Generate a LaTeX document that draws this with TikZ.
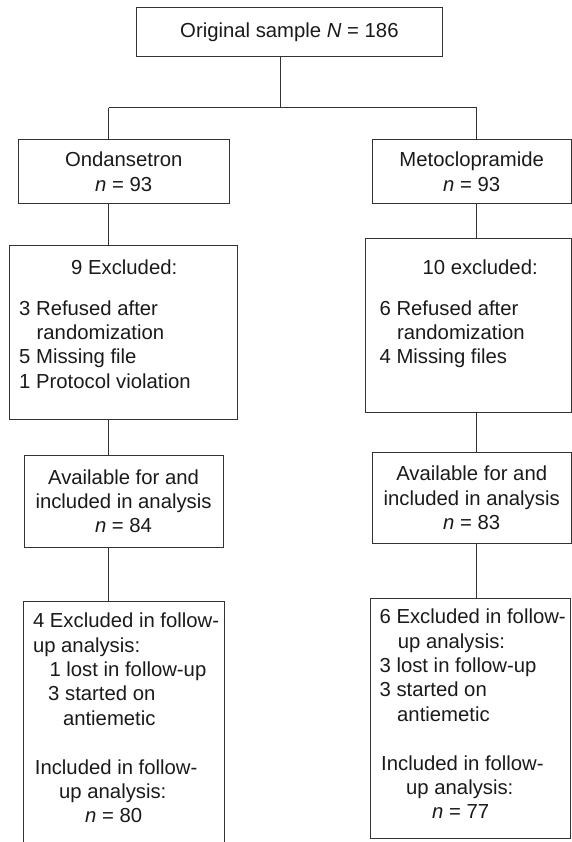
\documentclass[tikz,border=0pt]{standalone}
\usepackage{fontspec}
\setmainfont{Liberation Sans}
\usetikzlibrary{positioning,calc}
\definecolor{LineGrey}{HTML}{333333}
\definecolor{TextBlack}{HTML}{1A1A1A}

\begin{document}
\begin{tikzpicture}[x=1pt,y=1pt,
  font=\fontsize{20.3}{24.4}\selectfont,
  flowbox/.style={draw=LineGrey,line width=0.9pt,inner sep=0pt,anchor=north west,align=center,text=TextBlack},
  boxtext/.style={inner sep=0pt,anchor=north west,align=left,text=TextBlack},
  link/.style={draw=LineGrey,line width=0.9pt}]
  \useasboundingbox (0,0) rectangle (572,-842);

  % boxes
  \node[flowbox,minimum width=306.5pt,minimum height=48.7pt] (orig) at (135.7,-7.3) {Original sample \textit{N} = 186};
  \node[flowbox,minimum width=211.5pt,minimum height=64pt] (ond) at (17.5,-139.3) {Ondansetron\\\textit{n} = 93};
  \node[flowbox,minimum width=198.5pt,minimum height=64pt] (meto) at (372,-139.3) {Metoclopramide\\\textit{n} = 93};
  \node[flowbox,minimum width=228pt,minimum height=174pt] (exclL) at (9,-245) {};
  \node[flowbox,minimum width=205.5pt,minimum height=174pt] (exclR) at (365,-238.3) {};
  \node[flowbox,minimum width=198.8pt,minimum height=91.7pt] (availL) at (23.7,-455) {Available for and\\included in analysis\\\textit{n} = 84};
  \node[flowbox,minimum width=198.5pt,minimum height=91.6pt] (availR) at (372,-451.7) {Available for and\\included in analysis\\\textit{n} = 83};
  \node[flowbox,minimum width=201.8pt,minimum height=260pt] (followL) at (22.6,-601) {};
  \node[flowbox,minimum width=200.4pt,minimum height=240pt] (followR) at (369.6,-597.7) {};

  % box contents
  \node[boxtext] (exclLtxt) at ($(exclL.north west)+(10,-14.5)$) {%
    \hspace*{52pt}9 Excluded:\\[16.2pt]
    3 Refused after\\
    \hspace*{17.5pt}randomization\\
    5 Missing file\\
    1 Protocol violation};
  \node[boxtext] (exclRtxt) at ($(exclR.north west)+(14.4,-21.2)$) {%
    \hspace*{43pt}10 excluded:\\[16.2pt]
    6 Refused after\\
    \hspace*{17.5pt}randomization\\
    4 Missing files};
  \node[boxtext] (followLtxt) at ($(followL.north west)+(10.2,-11.8)$) {%
    4 Excluded in follow-\\
    up analysis:\\
    \hspace*{16.5pt}1 lost in follow-up\\
    \hspace*{15.2pt}3 started on\\
    \hspace*{30pt}antiemetic\\[24.4pt]
    \hspace*{1.9pt}Included in follow-\\
    \hspace*{26.2pt}up analysis:\\
    \hspace*{52.2pt}\textit{n} = 80};
  \node[boxtext] (followRtxt) at ($(followR.north west)+(9.8,-11.1)$) {%
    6 Excluded in follow-\\
    \hspace*{18.3pt}up analysis:\\
    3 lost in follow-up\\
    3 started on\\
    \hspace*{17.6pt}antiemetic\\[24.4pt]
    \hspace*{1.6pt}Included in follow-\\
    \hspace*{26.6pt}up analysis:\\
    \hspace*{52.6pt}\textit{n} = 77};

  % connectors
  \coordinate (split) at (280,-107.7);
  \coordinate (splitL) at (108.7,-107.7);
  \coordinate (splitR) at (476.8,-107.7);
  \draw[link] (orig.south -| split) -- (split);
  \draw[link] (splitL) -- (splitR);
  \draw[link] (splitL) -- (ond.north -| splitL);
  \draw[link] (splitR) -- (meto.north -| splitR);
  \foreach \a/\b in {ond/exclL,exclL/availL,availL/followL}
    \draw[link] (\a.south -| splitL) -- (\b.north -| splitL);
  \foreach \a/\b in {meto/exclR,exclR/availR,availR/followR}
    \draw[link] (\a.south -| splitR) -- (\b.north -| splitR);
\end{tikzpicture}
\end{document}
